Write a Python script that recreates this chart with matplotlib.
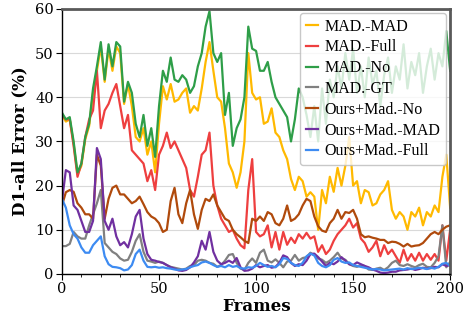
import numpy as np
import matplotlib
matplotlib.use('Agg')
import matplotlib.pyplot as plt
from matplotlib.ticker import MultipleLocator

frames = np.arange(0, 201, 2)

mad_mad = [36, 34.5, 35, 29.5, 22.5, 24.5, 30.5, 33.5, 41, 46,
           51.5, 43.5, 51, 46, 51.5, 50, 38.5, 43, 38, 31,
           30, 33, 27, 30, 23, 34, 42.5, 39.5, 43, 39,
           39.5, 41, 42, 36.5, 38, 37, 42, 48, 52.5, 46,
           40, 39, 33, 25, 23, 19.5, 23, 30, 50, 41,
           39.5, 40, 34, 34.5, 37.5, 32, 31, 28, 26, 21.5,
           19, 22, 21, 17.5, 18.5, 17.5, 10, 19, 16, 22,
           18.6, 24, 20, 24.5, 31, 20, 21, 16, 19, 18.5,
           15.5, 16, 18, 19, 21, 14.5, 12.5, 14, 13, 10,
           14, 13, 15, 11, 14, 13, 15.5, 14, 22, 27,
           15]
mad_full = [36, 35, 35, 29, 22, 25, 31, 35, 37, 46,
            33, 37, 38.5, 41, 43, 38, 33, 36, 28, 27,
            26, 25, 21, 23.5, 19, 27, 29, 32, 28.5, 30,
            28, 26, 24, 19, 17.5, 22, 27, 28, 32, 20,
            15.5, 12.5, 11, 9.5, 10, 8, 6.5, 5.8, 19, 26,
            9.5, 8.5, 9, 11, 6, 9.5, 5.5, 9.5, 6.6, 8.2,
            7, 9, 8, 9.3, 8, 8.5, 5, 6.5, 4.5, 5.5,
            7.5, 9, 10, 11, 12.5, 10.5, 11.5, 8, 7, 5,
            6, 7.5, 4, 6.5, 4.5, 5.5, 4, 2.5, 5.5, 3,
            4.5, 3, 4.8, 3, 4.5, 3.2, 4.5, 3, 11, 3,
            10]
mad_no = [36.5, 35, 35.5, 30, 23, 25, 31, 34, 42, 47,
          52.5, 44, 52, 47, 52.5, 51.5, 39, 43.5, 41, 34,
          31, 36, 29, 33, 26.5, 38, 46, 43.5, 49, 44,
          43.5, 45, 44, 41, 42.5, 47, 50, 56, 59.5, 50,
          48, 50, 36, 41, 29, 33, 35, 40, 56, 51,
          50.5, 46, 46, 48, 43.5, 40, 38.5, 37, 35.5, 30,
          35, 42, 40, 36, 31, 38, 30, 42, 34, 44,
          40, 47, 42, 50, 44, 51, 41, 47, 40, 49,
          43, 46, 38, 45, 49, 41, 47, 44, 52, 42,
          48, 45, 50, 41, 47, 51, 44, 50, 47, 55,
          46]
mad_gt = [6.3, 6.3, 6.8, 9.5, 8.5, 8, 8, 11, 13.5, 16,
          19, 7, 6, 5, 4.5, 3.5, 3, 3.2, 5, 7.5,
          9, 5, 3, 2.8, 2.5, 2.8, 2.5, 2, 1.6, 1.4,
          1.2, 1.0, 1.2, 1.8, 2, 3, 3.2, 3, 2.5, 2.3,
          1.6, 2, 3, 4.3, 4.5, 2.5, 1.2, 0.9, 2.5, 3.5,
          2.5, 4.8, 5.5, 3, 2.6, 3.3, 2.5, 1.5, 2.8, 3,
          4.3, 3, 3.6, 3.8, 4.8, 4.2, 3.5, 3.2, 2.5, 3,
          3.8, 4.8, 3.5, 3.2, 2.2, 1.8, 1.6, 2, 1.8, 1,
          0.9, 1.2, 1.4, 0.9, 1.5, 2.5, 3, 2, 1.8, 2.2,
          1.8, 1.5, 2, 2.3, 1.6, 1.5, 2.5, 4, 11, 1.5,
          2.7]
ours_no = [15.5, 18.5, 19, 18.6, 16, 15, 13.5, 13.5, 12.5, 27,
           24.5, 12.5, 17, 19.5, 20, 18, 18, 17, 16, 16.5,
           17.5, 15.8, 14, 13, 12.5, 11.5, 9.5, 10, 16.5, 19.5,
           13.5, 11.5, 16, 19, 13.5, 10.2, 14.5, 17, 16.5, 18,
           15.5, 14, 12.5, 12, 10, 9, 8.3, 7.5, 7, 12.5,
           12, 13, 12, 14, 13.5, 11.5, 11, 12.5, 15.5, 12,
           12.5, 13.5, 15.5, 17, 16.5, 13, 10.8, 9.8, 9.5, 11.5,
           12.5, 14.5, 12.5, 14, 13.8, 14.5, 12.5, 9, 8.3, 8.5,
           8.2, 8, 7.7, 7.7, 7, 7.3, 7.2, 6.8, 6.2, 6.8,
           6.2, 6.4, 6.5, 7, 8, 9, 9.5, 9, 10, 10.7,
           11]
ours_mad = [16.5, 23.5, 23, 15.5, 14.5, 12, 9.5, 9.5, 12, 28.5,
            26, 12, 10, 12.5, 8.5, 6.5, 7.2, 6, 9, 13,
            14.5, 8, 4.5, 3.2, 3, 2.7, 2.5, 2, 1.5, 1.2,
            0.8, 0.7, 0.9, 1.5, 2.6, 4, 7.5, 5.5, 9.5, 5,
            3, 2.2, 2.5, 3, 2.5, 3.6, 1.5, 0.7, 0.8, 1.2,
            2, 1.5, 1.8, 2, 1.4, 1.6, 2.5, 4.2, 3.8, 2.5,
            1.8, 2.2, 2, 3, 4.5, 4.6, 3.8, 2.8, 1.8, 2.5,
            2.2, 2.8, 3.8, 3, 2.2, 2, 2.6, 2.2, 1.8, 1.5,
            1, 0.7, 0.3, 0.2, 0.3, 0.5, 0.5, 0.8, 0.9, 1.0,
            1.2, 0.9, 1.1, 1.4, 1.2, 1.3, 1.6, 1.5, 2.2, 1.8,
            2]
ours_full = [17, 15, 11, 9, 8, 6, 4.8, 4.8, 6.5, 7.5,
             8.5, 4, 2.2, 1.6, 1.5, 1.3, 0.8, 1, 2, 4.5,
             5.5, 3, 1.6, 1.5, 1.6, 1.4, 1.5, 1.3, 1.2, 1,
             0.9, 1, 1.1, 1.5, 1.8, 2, 2.6, 2.8, 2.5, 2,
             1.6, 1.8, 1.5, 2, 1.6, 1.8, 1.3, 1.2, 1.5, 1.4,
             1.8, 2.5, 2, 1.6, 1.8, 1.5, 2.2, 3.6, 3.4, 2.5,
             2, 1.8, 2.5, 4, 4.6, 4.2, 2.5, 1.8, 1.5, 2,
             3.2, 3.6, 2.8, 2.5, 2.6, 2, 1.8, 1.6, 1.4, 1.2,
             1.0, 1.1, 1.0, 0.8, 0.9, 1.0, 1.1, 1.2, 1.0, 1.3,
             1.1, 1.2, 1.4, 1.3, 1.1, 1.4, 1.2, 1.6, 2.3, 2.5,
             1.8]

series = [('MAD.-MAD', mad_mad, '#FFB900'),
          ('MAD.-Full', mad_full, '#EE3F3F'),
          ('MAD.-No', mad_no, '#2E9E48'),
          ('MAD.-GT', mad_gt, '#808080'),
          ('Ours+Mad.-No', ours_no, '#B04A0C'),
          ('Ours+Mad.-MAD', ours_mad, '#7030A0'),
          ('Ours+Mad.-Full', ours_full, '#3D8BF2')]

plt.rcParams['font.family'] = 'DejaVu Serif'

fig = plt.figure(figsize=(4.66, 3.2), dpi=100)
ax = fig.add_axes([0.133, 0.144, 0.833, 0.828])

for name, vals, col in series:
    ax.plot(frames, vals, color=col, lw=1.6, label=name)

ax.set_xlim(0, 200)
ax.set_ylim(0, 60)
ax.set_xticks([0, 50, 100, 150, 200])
ax.xaxis.set_minor_locator(MultipleLocator(10))
ax.set_yticks(range(0, 61, 10))
ax.grid(axis='y', color='#d9d9d9', lw=0.8)
ax.set_axisbelow(True)
ax.tick_params(axis='both', labelsize=10.5, length=4, width=0.8, pad=2)
ax.tick_params(axis='x', which='minor', length=2.5, width=0.6)

for side in ('top', 'right'):
    ax.spines[side].set_color('#595959')
    ax.spines[side].set_linewidth(2)
for side in ('left', 'bottom'):
    ax.spines[side].set_color('black')
    ax.spines[side].set_linewidth(1)

ax.set_xlabel('Frames', fontsize=12, fontweight='bold', labelpad=1)
ax.set_ylabel('D1-all Error (%)', fontsize=12, fontweight='bold', labelpad=5)

leg = ax.legend(loc='upper right', prop={'family': 'Liberation Serif', 'size': 11.5},
                framealpha=0.8, handlelength=0.8, handletextpad=0.4,
                labelspacing=0.3, borderpad=0.35, borderaxespad=0.25,
                edgecolor='#bbbbbb')

fig.savefig('out.png', dpi=100)
